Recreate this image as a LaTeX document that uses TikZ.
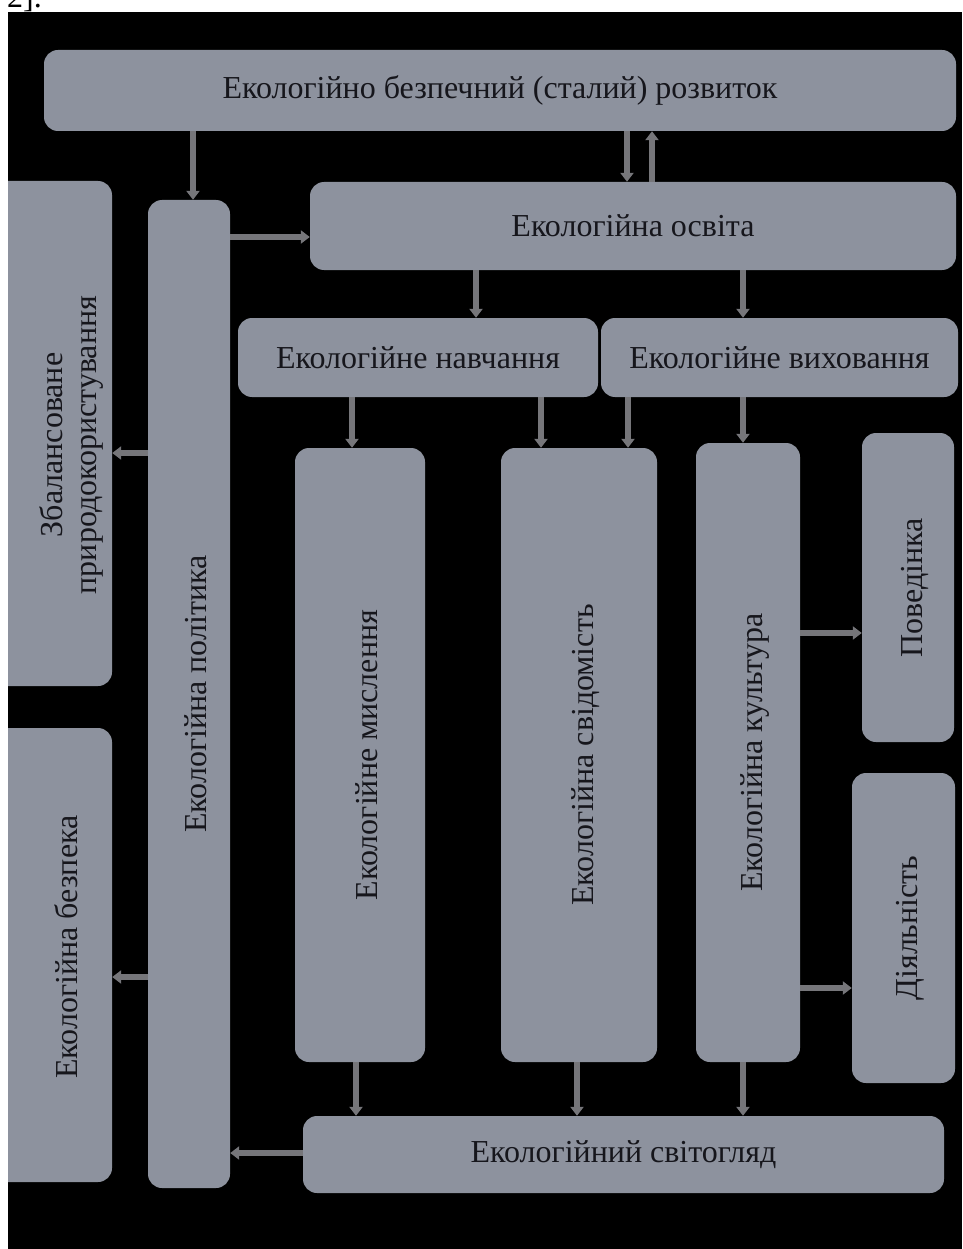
\documentclass[tikz,border=0pt]{standalone}
\usepackage{fontspec}
\setmainfont{Liberation Serif}
\usepackage{graphicx}
\usetikzlibrary{arrows.meta}
\definecolor{boxgray}{RGB}{141,146,158}
\definecolor{linkgray}{RGB}{118,118,122}
\definecolor{inkdark}{RGB}{22,22,28}

\begin{document}
\begin{tikzpicture}[x=1pt, y=-1pt,
    box/.style={fill=boxgray, rounded corners=14pt, text=inkdark, inner sep=0pt,
      font=\fontsize{32}{34}\selectfont},
    vbox/.style={box, execute at begin node={\hspace*{14pt}}},
    vtext/.style={text=inkdark, inner sep=0pt, font=\fontsize{32}{34}\selectfont},
    link/.style={draw=linkgray, line width=6pt, -{Triangle[width=13pt,length=9pt]}}]
    \useasboundingbox (0,0) rectangle (962,1249);

    \begin{scope}
      \clip (0,0) rectangle (962,12);
      \node[vtext, text=black, anchor=base east] (cite) at (42,8) {2].};
    \end{scope}

    \fill[black] (8,12) rectangle (962,1249);

    \begin{scope}
    \clip (8,12) rectangle (962,1249);

    \node[box, minimum width=912pt, minimum height=81pt] (top) at (500,90.5) {Екологійно безпечний (сталий) розвиток};
    \node[box, minimum width=646pt, minimum height=88pt] (osv) at (633,226) {Екологійна освіта};
    \node[box, minimum width=360pt, minimum height=79pt] (navch) at (418,357.5) {Екологійне навчання};
    \node[box, minimum width=357pt, minimum height=79pt] (vykh) at (779.5,357.5) {Екологійне виховання};
    \node[box, minimum width=641pt, minimum height=77pt] (svit) at (623.5,1154.5) {Екологійний світогляд};

    \node[box, minimum width=118pt, minimum height=505pt] (zbal) at (53,433.5) {};
    \node[vtext] (zbal-txt) at (73,445) {\rotatebox{90}{\begin{tabular}{@{}c@{}}Збалансоване\\ природокористування\end{tabular}}};
    \node[box, minimum width=118pt, minimum height=454pt] (bezp) at (53,955) {};
    \node[vtext] (bezp-txt) at (66,947) {\rotatebox{90}{Екологійна безпека}};

    \node[vbox, minimum width=82pt, minimum height=988pt] (pol) at (189,694) {\rotatebox{90}{Екологійна політика}};
    \node[vbox, minimum width=130pt, minimum height=614pt] (mysl) at (360,755) {\rotatebox{90}{Екологійне мислення}};
    \node[vbox, minimum width=156pt, minimum height=614pt] (svid) at (579,755) {\rotatebox{90}{Екологійна свідомість}};
    \node[vbox, minimum width=104pt, minimum height=619pt] (kult) at (748,752.5) {\rotatebox{90}{Екологійна культура}};
    \node[vbox, minimum width=92pt, minimum height=309pt] (poved) at (908,587.5) {\rotatebox{90}{Поведінка}};
    \node[vbox, minimum width=103pt, minimum height=310pt] (diial) at (903.5,928) {\rotatebox{90}{Діяльність}};

    \draw[link] ([xshift=4pt]pol.north |- top.south) -- ([xshift=4pt]pol.north);
    \draw[link] ([xshift=-6pt]osv.north |- top.south) -- ([xshift=-6pt]osv.north);
    \draw[link] ([xshift=19pt]osv.north) -- ([xshift=19pt]osv.north |- top.south);
    \draw[link] ([yshift=-11pt]pol.east |- osv.west) -- ([yshift=-11pt]osv.west);
    \draw[link] ([xshift=58pt]navch.north |- osv.south) -- ([xshift=58pt]navch.north);
    \draw[link] ([xshift=-36.5pt]vykh.north |- osv.south) -- ([xshift=-36.5pt]vykh.north);

    \draw[link] ([xshift=-8pt]mysl.north |- navch.south) -- ([xshift=-8pt]mysl.north);
    \draw[link] ([xshift=-38pt]svid.north |- navch.south) -- ([xshift=-38pt]svid.north);
    \draw[link] ([xshift=49pt]svid.north |- vykh.south) -- ([xshift=49pt]svid.north);
    \draw[link] ([xshift=-5pt]kult.north |- vykh.south) -- ([xshift=-5pt]kult.north);

    \draw[link] ([yshift=119.5pt]kult.east) -- ([yshift=119.5pt]kult.east -| poved.west);
    \draw[link] ([yshift=-235.5pt]kult.east) -- ([yshift=-235.5pt]kult.east -| diial.west);

    \draw[link] ([xshift=-4pt]mysl.south) -- ([xshift=-4pt]mysl.south |- svit.north);
    \draw[link] ([xshift=-2pt]svid.south) -- ([xshift=-2pt]svid.south |- svit.north);
    \draw[link] ([xshift=-5pt]kult.south) -- ([xshift=-5pt]kult.south |- svit.north);
    \draw[link] ([yshift=1.5pt]svit.west) -- ([yshift=1.5pt]svit.west -| pol.east);

    \draw[link] ([yshift=241pt]pol.west) -- ([yshift=241pt]pol.west -| zbal.east);
    \draw[link] ([yshift=-283pt]pol.west) -- ([yshift=-283pt]pol.west -| bezp.east);
    \end{scope}
\end{tikzpicture}
\end{document}
